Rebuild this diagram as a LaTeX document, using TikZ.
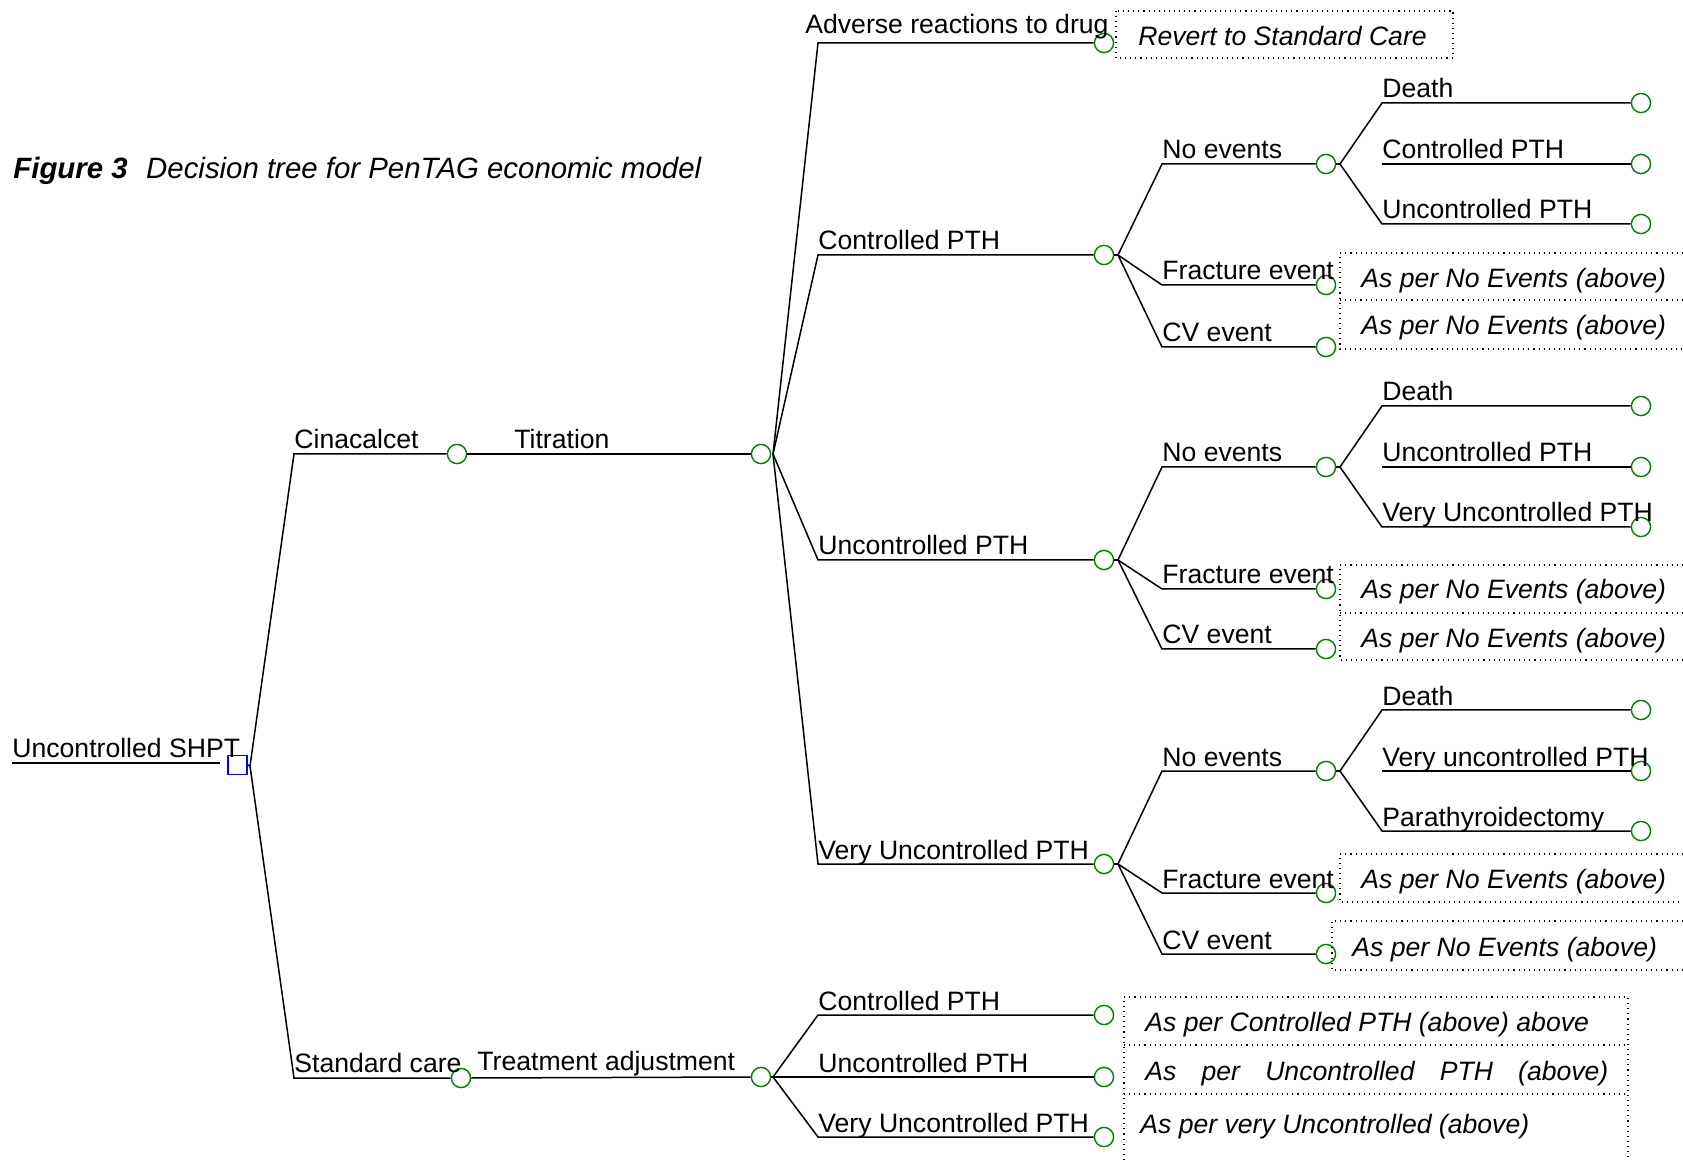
\documentclass[tikz,border=0pt]{standalone}
\usepackage{fontspec}
\setmainfont{Liberation Sans}
\definecolor{chgreen}{RGB}{0,128,0}
\begin{document}
\begin{tikzpicture}[x=0.5pt,y=-0.5pt,
  ln/.style={line width=0.75pt,black},
  chance/.style={circle,draw=chgreen,line width=0.7pt,minimum size=9.6pt,inner sep=0pt},
  dec/.style={rectangle,draw=blue,line width=0.7pt,minimum size=9.4pt,inner sep=0pt},
  lbl/.style={anchor=base west,inner sep=0pt,font=\fontsize{13.3}{16}\selectfont},
  ilbl/.style={anchor=base west,inner sep=0pt,font=\fontsize{13.3}{16}\selectfont\itshape},
  dotbox/.style={draw,dotted,line width=0.55pt}]
\useasboundingbox (0,0) rectangle (1683,1160);

% title
\node[anchor=base west,inner sep=0pt,font=\fontsize{14.7}{17}\selectfont\itshape] (title) at (13,179) {\textbf{Figure 3}\hspace{0.35em} Decision tree for PenTAG economic model};

% root
\node[dec] (root) at (237.5,765) {};
\coordinate (rin) at (12,763);
\coordinate (rend) at (220,763);
\draw[ln] (rin) -- (rend);
\node[lbl] (troot) at (12,757) {Uncontrolled SHPT};
\coordinate (rb) at (250,766);

% Cinacalcet arm
\coordinate (cs) at (294,454);
\node[chance] (c1) at (457,454) {};
\node[chance] (c2) at (761,454) {};
\draw[ln] (root.east) -- (rb) -- (cs) -- (c1.west);
\draw[ln] (c1.east) -- (c2.west);
\node[lbl] (tcina) at (294,449) {Cinacalcet};
\node[lbl] (ttitr) at (514,449) {Titration};
\coordinate (c2b) at (773,454);

% Standard care arm
\coordinate (ss) at (294,1078);
\node[chance] (s1) at (461,1078) {};
\node[chance] (s2) at (761,1077) {};
\draw[ln] (rb) -- (ss) -- (s1.west);
\draw[ln] (s1.east) -- (s2.west);
\node[lbl] (tstd) at (294,1072) {Standard care};
\node[lbl] (ttreat) at (477,1070) {Treatment adjustment};
\coordinate (s2b) at (773,1077);

% level 2 under titration
\foreach \n/\y/\t in {cp/255/Controlled PTH, up/560/Uncontrolled PTH, vp/864/Very Uncontrolled PTH}{
  \coordinate (\n-s) at (818,\y);
  \node[chance] (\n) at (1104,\y) {};
  \draw[ln] (c2b) -- (\n-s) -- (\n.west);
  \node[lbl] (t\n) at (818,\y-5) {\t};
}
\coordinate (ad-s) at (818,43);
\node[chance] (ad) at (1104,43) {};
\draw[ln] (c2b) -- (ad-s) -- (ad.west);
\node[lbl] (tad) at (805,34) {Adverse reactions to drug};

% Revert box
\draw[dotbox] (1116,11) rectangle (1453,58);
\node[ilbl] (trev) at (1138,46) {Revert to Standard Care};

% level 3 and 4
\foreach \g/\yg/\ya/\yb/\yc/\la/\lb/\lc in {
  cp/255/164/285/347/Death/Controlled PTH/Uncontrolled PTH,
  up/560/467/589/649/Death/Uncontrolled PTH/Very Uncontrolled PTH,
  vp/864/771/893/954/Death/Very uncontrolled PTH/Parathyroidectomy}{
  \coordinate (\g-b) at (1118,\yg);
  \coordinate (\g-ns) at (1162,\ya);
  \coordinate (\g-fs) at (1162,\yb);
  \coordinate (\g-vs) at (1162,\yc);
  \node[chance] (\g-n) at (1326,\ya) {};
  \node[chance] (\g-f) at (1326,\yb) {};
  \node[chance] (\g-v) at (1326,\yc) {};
  \draw[ln] (\g.east) -- (\g-b);
  \draw[ln] (\g-b) -- (\g-ns) -- (\g-n.west);
  \draw[ln] (\g-b) -- (\g-fs) -- (\g-f.west);
  \draw[ln] (\g-b) -- (\g-vs) -- (\g-v.west);
  \node[lbl] (t\g-n) at (1162,\ya-5) {No events};
  \node[lbl] (t\g-f) at (1162,\yb-5) {Fracture event};
  \node[lbl] (t\g-v) at (1162,\yc-5) {CV event};
  % level 4
  \coordinate (\g-nb) at (1340,\ya);
  \coordinate (\g-1s) at (1382,\ya-61);
  \coordinate (\g-2s) at (1382,\ya);
  \coordinate (\g-3s) at (1382,\ya+60);
  \node[chance] (\g-1) at (1641,\ya-61) {};
  \node[chance] (\g-2) at (1641,\ya) {};
  \node[chance] (\g-3) at (1641,\ya+60) {};
  \draw[ln] (\g-n.east) -- (\g-nb);
  \draw[ln] (\g-nb) -- (\g-1s) -- (\g-1.west);
  \draw[ln] (\g-2s) -- (\g-2.west);
  \draw[ln] (\g-nb) -- (\g-3s) -- (\g-3.west);
  \node[lbl] (t\g-1) at (1382,\ya-66) {\la};
  \node[lbl] (t\g-2) at (1382,\ya-5) {\lb};
  \node[lbl] (t\g-3) at (1382,\ya+55) {\lc};
}

% dotted boxes, right side
\draw[dotbox] (1683,253) -- (1340,253) -- (1340,349) -- (1683,349);
\draw[dotbox] (1340,300) -- (1683,300);
\node[ilbl] (bA1) at (1361,288) {As per No Events (above)};
\node[ilbl] (bA2) at (1361,335) {As per No Events (above)};

\draw[dotbox] (1683,565) -- (1340,565) -- (1340,660) -- (1683,660);
\draw[dotbox] (1340,613) -- (1683,613);
\node[ilbl] (bB1) at (1361,599) {As per No Events (above)};
\node[ilbl] (bB2) at (1361,647) {As per No Events (above)};

\draw[dotbox] (1683,854) -- (1340,854) -- (1340,902) -- (1683,902);
\node[ilbl] (bC1) at (1361,888) {As per No Events (above)};
\draw[dotbox] (1683,921) -- (1332,921) -- (1332,970) -- (1683,970);
\node[ilbl] (bC2) at (1352,956) {As per No Events (above)};

% standard care level 2
\foreach \n/\y/\t in {sc/1015/Controlled PTH, su/1077/Uncontrolled PTH, sv/1137/Very Uncontrolled PTH}{
  \coordinate (\n-s) at (818,\y);
  \node[chance] (\n) at (1104,\y) {};
  \draw[ln] (s2b) -- (\n-s) -- (\n.west);
  \node[lbl] (t\n) at (818,\y-5) {\t};
}
\draw[ln] (s2.east) -- (s2b);

\draw[dotbox] (1124,1160) -- (1124,997) -- (1628,997) -- (1628,1160);
\draw[dotbox] (1124,1045) -- (1628,1045);
\draw[dotbox] (1124,1094) -- (1628,1094);
\node[ilbl] (bS1) at (1145,1031) {As per Controlled PTH (above) above};
\node[ilbl] (bS2) at (1145,1080) {\makebox[231.5pt][s]{As per Uncontrolled PTH (above)}};
\node[ilbl] (bS3) at (1140,1133) {As per very Uncontrolled (above)};
\end{tikzpicture}
\end{document}
